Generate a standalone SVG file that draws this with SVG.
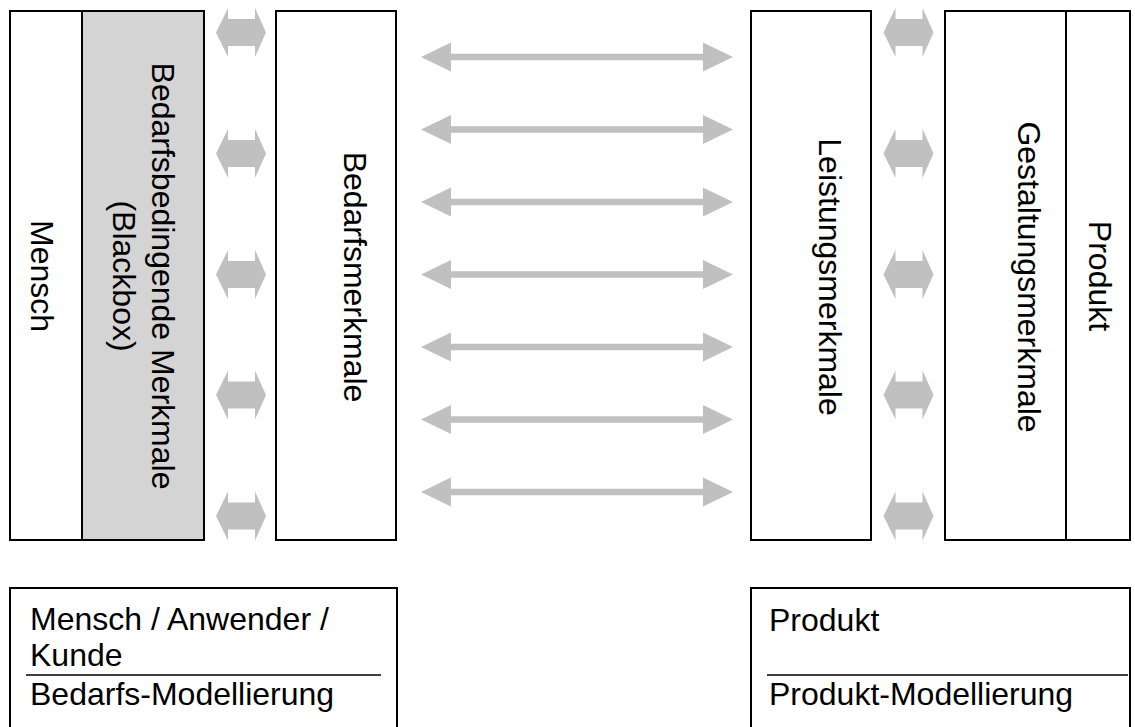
<svg xmlns="http://www.w3.org/2000/svg" width="1135" height="727" viewBox="0 0 1135 727">
  <style>
    .box { fill: #ffffff; stroke: #000000; stroke-width: 2; }
    .box.grey { fill: #d4d4d4; }
    .lbl { font-family: "Liberation Sans", Arial, sans-serif; font-size: 32px; fill: #000000; }
    .vt { text-anchor: middle; }
    .sep { stroke: #000000; stroke-width: 1.5; }
    .arr { fill: #c0c0c0; }
  </style>
  <defs>
    <!-- short thick double arrow between neighbouring columns -->
    <polygon id="shortArrow" class="arr" points="-25,0 -13,-24.5 -13,-13.5 14,-13.5 14,-24.5 25,0 14,24.5 14,13.5 -13,13.5 -13,24.5"/>
    <!-- long thin double arrow spanning the gap -->
    <polygon id="longArrow" class="arr" points="-156,0 -126,-14.5 -126,-3.3 126,-3.3 126,-14.5 156,0 126,14.5 126,3.3 -126,3.3 -126,14.5"/>
  </defs>

  <g id="mensch">
    <rect class="box" x="10" y="11" width="72" height="529"/>
    <text class="lbl vt" transform="translate(31,276) rotate(90)">Mensch</text>
  </g>

  <g id="bedarfsbedingende-merkmale">
    <rect class="box grey" x="82" y="11" width="122" height="529"/>
    <text class="lbl vt" transform="translate(152,276) rotate(90)">Bedarfsbedingende Merkmale</text>
    <text class="lbl vt" transform="translate(113,276) rotate(90)">(Blackbox)</text>
  </g>

  <g id="bedarfsmerkmale">
    <rect class="box" x="276" y="11" width="120" height="529"/>
    <text class="lbl vt" transform="translate(344,277) rotate(90)">Bedarfsmerkmale</text>
  </g>

  <g id="leistungsmerkmale">
    <rect class="box" x="751" y="11" width="120" height="529"/>
    <text class="lbl vt" transform="translate(819,277) rotate(90)">Leistungsmerkmale</text>
  </g>

  <g id="gestaltungsmerkmale">
    <rect class="box" x="945" y="11" width="121" height="529"/>
    <text class="lbl vt" transform="translate(1018,277) rotate(90)">Gestaltungsmerkmale</text>
  </g>

  <g id="produkt">
    <rect class="box" x="1066" y="11" width="64" height="529"/>
    <text class="lbl vt" transform="translate(1089,276) rotate(90)">Produkt</text>
  </g>

  <g id="connectors">
    <!-- left pair of columns -->
    <use href="#shortArrow" x="241" y="32.5"/>
    <use href="#shortArrow" x="241" y="153.5"/>
    <use href="#shortArrow" x="241" y="274.5"/>
    <use href="#shortArrow" x="241" y="395"/>
    <use href="#shortArrow" x="241" y="516"/>
    <!-- right pair of columns -->
    <use href="#shortArrow" x="908.5" y="32.5"/>
    <use href="#shortArrow" x="908.5" y="153.5"/>
    <use href="#shortArrow" x="908.5" y="274.5"/>
    <use href="#shortArrow" x="908.5" y="395"/>
    <use href="#shortArrow" x="908.5" y="516"/>
    <!-- middle gap -->
    <use href="#longArrow" x="577" y="57"/>
    <use href="#longArrow" x="577" y="129.5"/>
    <use href="#longArrow" x="577" y="202"/>
    <use href="#longArrow" x="577" y="274.5"/>
    <use href="#longArrow" x="577" y="347"/>
    <use href="#longArrow" x="577" y="419.5"/>
    <use href="#longArrow" x="577" y="492"/>
  </g>

  <g id="legend-mensch">
    <rect class="box" x="10" y="588" width="387" height="160"/>
    <text class="lbl" x="30" y="630">Mensch / Anwender /</text>
    <text class="lbl" x="30" y="666">Kunde</text>
    <line class="sep" x1="26" y1="675" x2="381" y2="675"/>
    <text class="lbl" x="30" y="705">Bedarfs-Modellierung</text>
  </g>

  <g id="legend-produkt">
    <rect class="box" x="751" y="588" width="379" height="160"/>
    <text class="lbl" x="769" y="631">Produkt</text>
    <line class="sep" x1="767" y1="675" x2="1128" y2="675"/>
    <text class="lbl" x="769" y="705">Produkt-Modellierung</text>
  </g>
</svg>
